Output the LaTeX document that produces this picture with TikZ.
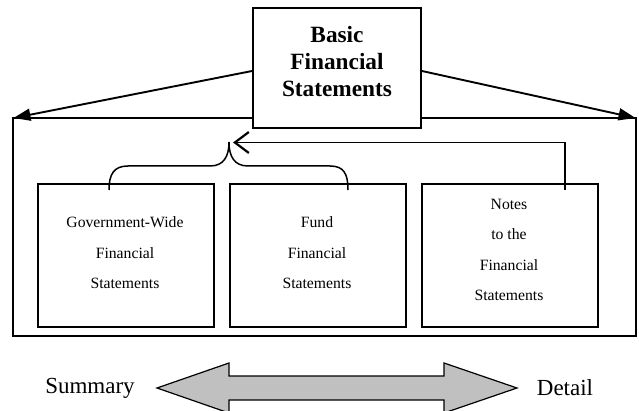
\documentclass[tikz,border=0pt]{standalone}
\usepackage{fontspec}
\setmainfont{Liberation Serif}
\usetikzlibrary{arrows.meta}
\tikzset{
  sbox/.style={draw, line width=1.9pt, fill=white, minimum width=176pt, minimum height=143pt, inner sep=0pt, anchor=north west},
  stext/.style={align=center, font=\fontsize{15.7}{30.5}\selectfont},
  btext/.style={font=\fontsize{23}{27}\selectfont},
}
\begin{document}
\begin{tikzpicture}[x=1pt,y=-1pt]
\useasboundingbox (0,0) rectangle (639,411);
% frame
\draw[line width=1.5pt] (13,336) -- (13,118) -- (636,118) -- (636,336);
\draw[line width=2.4pt] (12.3,336) -- (636.7,336);
% top box
\node[draw, line width=1.9pt, fill=white, minimum width=168pt, minimum height=120pt, inner sep=0pt] (top) at (337,68) {};
\node[align=center, font=\bfseries\fontsize{23.3}{27}\selectfont] (toptext) at (337,62) {Basic\\Financial\\Statements};
% arrows from top box
\coordinate (lt) at (13.5,118);
\coordinate (rt) at (635.5,118);
\draw[line width=1.9pt, -{Triangle[length=17pt,width=12pt]}] (top.west |- 0,71) -- (lt);
\draw[line width=1.9pt, -{Triangle[length=17pt,width=12pt]}] (top.east |- 0,71) -- (rt);
% inner boxes
\node[sbox] (gw) at (37,183) {};
\node[sbox] (fund) at (229,183) {};
\node[sbox] (notes) at (421,183) {};
\node[stext] (gwt) at (125,253) {Government-Wide\\Financial\\Statements};
\node[stext] (fundt) at (317,253) {Fund\\Financial\\Statements};
\node[stext] (notest) at (509,250) {Notes\\to the\\Financial\\Statements};
% brace
\coordinate (tip) at (229,142);
\coordinate (bl) at (109,190);
\coordinate (br) at (348,190);
\draw[line width=1.5pt] (bl) .. controls (109,174) and (114,166) .. (128,166) -- (210,166)
  .. controls (224,166) and (229,156) .. (tip)
  .. controls (229,156) and (234,166) .. (248,166) -- (330,166)
  .. controls (344,166) and (348,174) .. (br);
% notes arrow
\coordinate (ns) at (565,190);
\draw[line width=1.9pt, -{Straight Barb[length=14pt,width=21pt,line width=2.2pt]}] (ns) -- (565,142.5) -- (233,142.5);
% bottom double arrow
\draw[line width=1.2pt, fill={rgb,255:red,192;green,192;blue,192}] (157,388) -- (229,363) -- (229,376) -- (444,376) -- (444,363) -- (517,388) -- (444,413) -- (444,400) -- (229,400) -- (229,413) -- cycle;
\node[btext] (sum) at (90,388) {Summary};
\node[btext] (det) at (565,388) {Detail};
\end{tikzpicture}
\end{document}
